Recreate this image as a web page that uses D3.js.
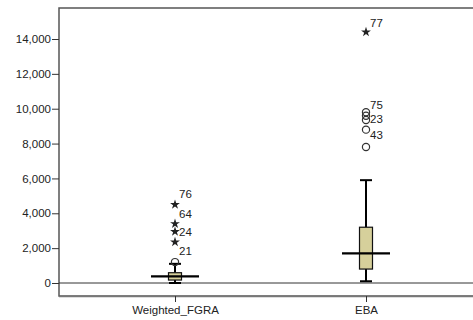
<!DOCTYPE html>
<html lang="en">
<head>
<meta charset="UTF-8">
<title>Boxplot</title>
<script src="https://d3js.org/d3.v7.min.js"></script>
<style>
    body{ margin:0; background:#fff; }
    text{ font-family: "Liberation Sans", Arial, sans-serif; font-size:11px; fill:#222; }
    .frame{ stroke:#555; fill:none; }
</style>
</head>
<body>
<svg width="473" height="320"></svg>
<script>
    // data
    let categories = ["Weighted_FGRA", "EBA"];
    let whiskerLow = [0, 100];
    let q1 = [170, 800];
    let medians = [380, 1700];
    let q3 = [590, 3200];
    let whiskerHigh = [1100, 5900];
    // mild outliers (circles) and extreme outliers (stars)
    let circles = [[1200], [7800, 8800, 9350, 9600, 9800]];
    let stars = [[2350, 2950, 3400, 4500], [14400]];
    // case number labels and the value level they sit at
    let labelCase = [["76", "64", "24", "21"], ["77", "75", "23", "43"]];
    let labelAt = [[5100, 3950, 2900, 1850], [14900, 10200, 9400, 8500]];
    let yTicks = [0, 2000, 4000, 6000, 8000, 10000, 12000, 14000];

    let svg = d3.select('svg');
    let plotLeft = 59, plotTop = 8, plotBottom = 296, plotRight = 480;

    let yscale = d3.scaleLinear().domain([0, 14000]).range([283, 39]);
    let xscale = d3.scalePoint().domain(categories).range([175, 366]);

    // frame
    svg.append('path').attr('class', 'frame').attr('stroke-width', 1.5)
        .attr('d', 'M' + plotRight + ',' + plotTop + 'H' + plotLeft + 'V' + plotBottom + 'H' + plotRight);
    svg.append('line').attr('x1', plotLeft).attr('x2', plotRight)
        .attr('y1', plotBottom + 0.5).attr('y2', plotBottom + 0.5)
        .attr('stroke', '#777').attr('stroke-width', 1.5);

    // zero reference line
    svg.append('line').attr('x1', plotLeft).attr('x2', plotRight)
        .attr('y1', yscale(0)).attr('y2', yscale(0))
        .attr('stroke', '#333').attr('stroke-width', 1);

    // y axis
    let yAxis = svg.append('g')
        .attr('transform', 'translate(' + plotLeft + ',0)')
        .call(d3.axisLeft(yscale).tickValues(yTicks).tickSize(7).tickPadding(1)
            .tickFormat(d3.format(',')));
    yAxis.select('.domain').remove();
    yAxis.selectAll('.tick line').attr('stroke', '#333');
    yAxis.selectAll('text').style('font-size', '11.5px').attr('fill', '#222');

    // x axis
    let xAxis = svg.append('g')
        .attr('transform', 'translate(0,' + plotBottom + ')')
        .call(d3.axisBottom(xscale).tickSize(6).tickPadding(4));
    xAxis.select('.domain').remove();
    xAxis.selectAll('.tick line').attr('stroke', '#333');
    xAxis.selectAll('text').style('font-size', '11.5px').attr('fill', '#222');

    let boxW = 13, capW = 12, medW = 48;
    categories.forEach(function (c, i) {
        let cx = xscale(c);
        let g = svg.append('g');
        // whiskers
        g.append('line').attr('x1', cx).attr('x2', cx)
            .attr('y1', yscale(q3[i])).attr('y2', yscale(whiskerHigh[i]))
            .attr('stroke', '#000').attr('stroke-width', 2);
        g.append('line').attr('x1', cx).attr('x2', cx)
            .attr('y1', yscale(q1[i])).attr('y2', yscale(whiskerLow[i]))
            .attr('stroke', '#000').attr('stroke-width', 2);
        [whiskerHigh[i], whiskerLow[i]].forEach(function (v) {
            g.append('line').attr('x1', cx - capW / 2).attr('x2', cx + capW / 2)
                .attr('y1', yscale(v)).attr('y2', yscale(v))
                .attr('stroke', '#000').attr('stroke-width', 2);
        });
        // box
        g.append('rect').attr('x', cx - boxW / 2).attr('width', boxW)
            .attr('y', yscale(q3[i])).attr('height', yscale(q1[i]) - yscale(q3[i]))
            .attr('fill', '#d6d09b').attr('stroke', '#111').attr('stroke-width', 1.2);
        // median
        g.append('line').attr('x1', cx - medW / 2).attr('x2', cx + medW / 2)
            .attr('y1', yscale(medians[i])).attr('y2', yscale(medians[i]))
            .attr('stroke', '#000').attr('stroke-width', 2.2);
        // circles
        g.selectAll('circle.o').data(circles[i]).enter().append('circle')
            .attr('cx', cx).attr('cy', function (d) { return yscale(d); })
            .attr('r', 3.6).attr('fill', 'none').attr('stroke', '#333').attr('stroke-width', 1.2);
        // stars
        g.selectAll('path.s').data(stars[i]).enter().append('path')
            .attr('d', d3.symbol().type(d3.symbolStar).size(30))
            .attr('transform', function (d) { return 'translate(' + cx + ',' + yscale(d) + ')'; })
            .attr('fill', '#222');
        // case labels
        g.selectAll('text.l').data(labelCase[i]).enter().append('text')
            .attr('x', cx + 4)
            .attr('y', function (d, j) { return yscale(labelAt[i][j]); })
            .attr('dy', '0.35em')
            .style('font-size', '11.5px')
            .text(function (d) { return d; });
    });
</script>
</body>
</html>
